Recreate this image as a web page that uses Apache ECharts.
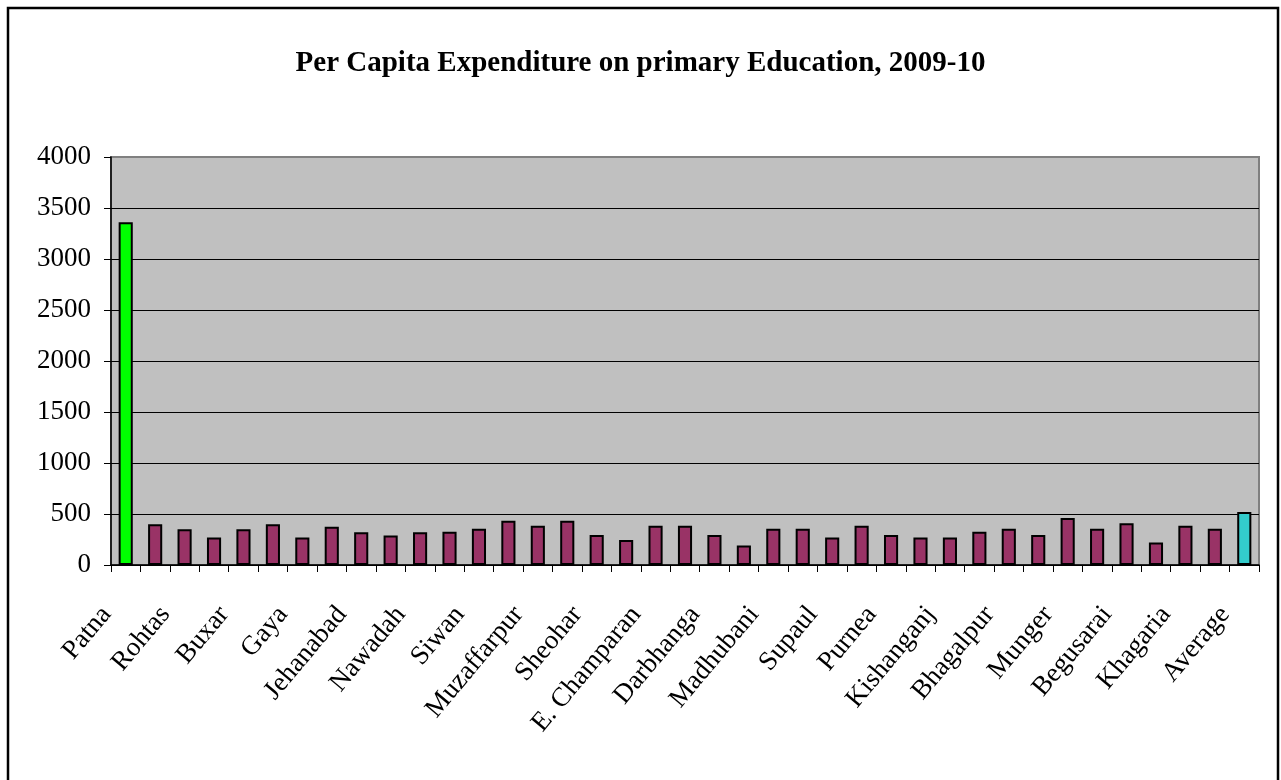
<!DOCTYPE html>
<html>
<head>
<meta charset="utf-8">
<script src="https://cdn.jsdelivr.net/npm/echarts@6/dist/echarts.min.js"></script>
<style>
html,body{margin:0;padding:0;background:#fff;}
#chart{width:1281px;height:780px;}
</style>
</head>
<body>
<div id="chart"></div>
<script>
var titleText = 'Per Capita Expenditure on primary Education, 2009-10';
var categories = ['Patna','Nalanda','Rohtas','Kaimur','Buxar','Bhojpur','Gaya','Aurangabad','Jehanabad','Arwal',
  'Nawadah','Saran','Siwan','Gopalganj','Muzaffarpur','Sitamarhi','Sheohar','W. Champaran','E. Champaran','Vaishali',
  'Darbhanga','Samastipur','Madhubani','Saharsa','Supaul','Madhepura','Purnea','Araria','Kishanganj','Katihar',
  'Bhagalpur','Banka','Munger','Lakhisarai','Begusarai','Sheikhpura','Khagaria','Jamui','Average'];
var values = [3360,400,350,270,350,400,270,375,320,290,
  320,325,355,435,385,435,295,245,385,385,
  295,190,355,355,270,385,295,270,270,325,
  355,295,460,355,410,220,385,355,520];
var yTicks = [0,500,1000,1500,2000,2500,3000,3500,4000];
var highlightColors = {'Patna':'#00FF00','Average':'#33CCCC'};
var baseColor = '#993366';

var chart = echarts.init(document.getElementById('chart'), null, {renderer:'canvas'});
var font = '"Liberation Serif","Times New Roman",serif';
var gridLineColors = yTicks.map(function(t, i){ return i === yTicks.length - 1 ? '#808080' : '#000'; });
chart.setOption({
  animation:false,
  backgroundColor:'#ffffff',
  title:{
    text:titleText, left:'center', top:44,
    textStyle:{fontFamily:font, fontSize:29, fontWeight:'bold', color:'#000'}
  },
  grid:{left:111, right:22, top:157, bottom:215, show:true, backgroundColor:'#C0C0C0', borderColor:'#808080', borderWidth:2},
  xAxis:{
    type:'category', data:categories, boundaryGap:true,
    axisLine:{lineStyle:{color:'#000', width:1.5}},
    axisTick:{show:true, alignWithLabel:false, interval:0, length:7, lineStyle:{color:'#000'}},
    axisLabel:{interval:1, rotate:50, fontFamily:font, fontSize:27, color:'#000', margin:22, padding:[0,30,0,0]}
  },
  yAxis:{
    type:'value', min:yTicks[0], max:yTicks[yTicks.length-1], interval:yTicks[1]-yTicks[0],
    axisLine:{show:true, lineStyle:{color:'#000', width:1.5}},
    axisTick:{show:true, length:7, lineStyle:{color:'#000'}},
    axisLabel:{fontFamily:font, fontSize:27, color:'#000', margin:20, formatter:function(v){return String(v);}},
    splitLine:{show:true, lineStyle:{color:gridLineColors, width:1}}
  },
  series:[{
    type:'bar', barWidth:'48%',
    data:values.map(function(v,i){
      return {value:v, itemStyle:{color: highlightColors[categories[i]] || baseColor}};
    }),
    itemStyle:{borderColor:'#000', borderWidth:2}
  }],
  graphic:[{
    type:'rect', silent:true,
    shape:{x:8, y:8, width:1270, height:800},
    style:{fill:null, stroke:'#000', lineWidth:2.5}
  }]
});
</script>
</body>
</html>
